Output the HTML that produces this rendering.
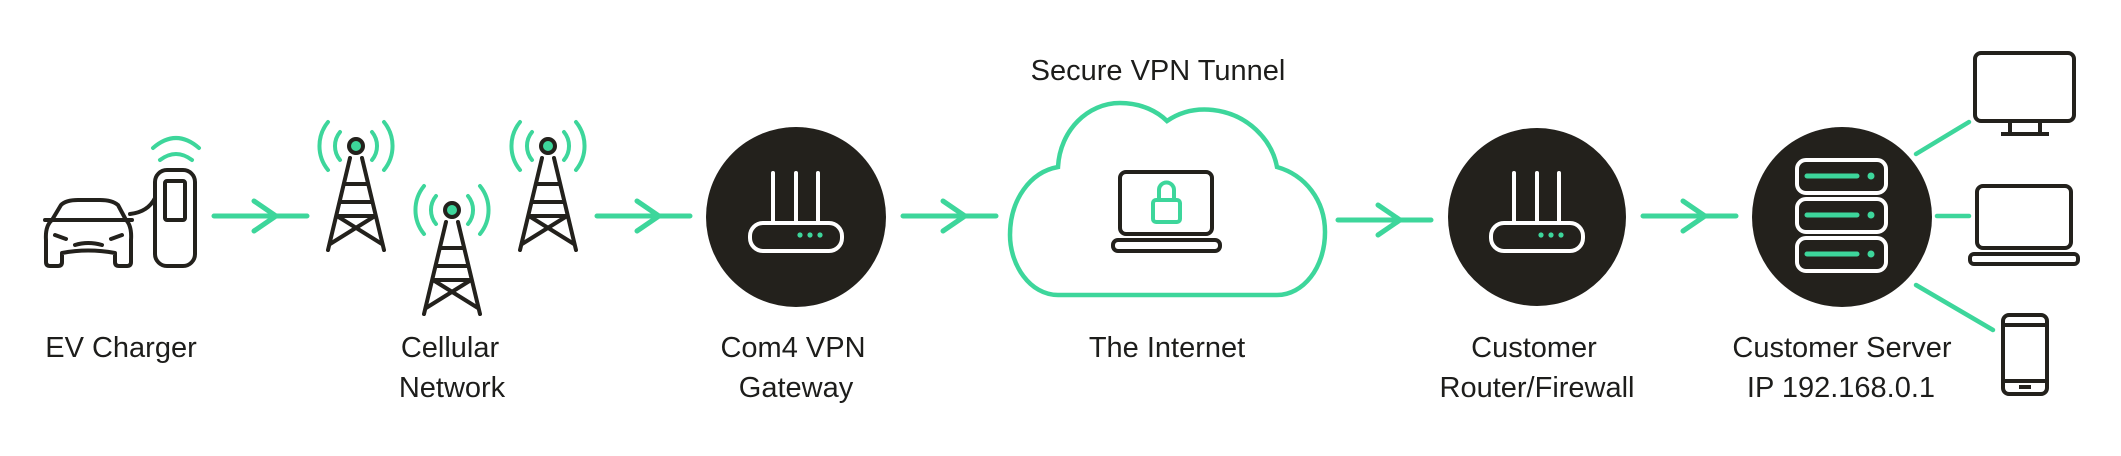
<!DOCTYPE html>
<html><head><meta charset="utf-8"><style>
html,body{margin:0;padding:0;background:#fff;width:2121px;height:456px;overflow:hidden}
svg{display:block}
text{font-family:"Liberation Sans",sans-serif;font-size:29px;fill:#1d1d1b;text-anchor:middle}
</style></head><body>
<svg width="2121" height="456" viewBox="0 0 2121 456" xmlns="http://www.w3.org/2000/svg">
<defs>
<g id="tower" fill="none" stroke="#23211c" stroke-width="4" stroke-linecap="round">
  <path d="M-6,12 L-28,104 M6,12 L28,104"/>
  <path d="M-11,38 L11,38 M-15,56 L15,56 M-19,70 L19,70 M-19,70 L26,98 M19,70 L-26,98"/>
  <circle cx="0" cy="0" r="7" fill="#3dd69b" stroke="#23211c" stroke-width="4"/>
  <g stroke="#3dd69b" stroke-width="4">
    <path d="M-16,-14 A22,22 0 0 0 -16,14 M16,-14 A22,22 0 0 1 16,14"/>
    <path d="M-28,-24 A38,38 0 0 0 -28,24 M28,-24 A38,38 0 0 1 28,24"/>
  </g>
</g>
<g id="arrow" fill="none" stroke="#3dd69b" stroke-width="5" stroke-linecap="round">
  <path d="M0,0 L93,0 M40,-15 L62,0 L40,15"/>
</g>
<g id="router" fill="none" stroke="#fff" stroke-width="4" stroke-linecap="round">
  <path d="M-23,-44 L-23,6 M0,-44 L0,6 M22,-44 L22,6"/>
  <rect x="-46" y="6" width="92" height="28" rx="13" fill="#23211c"/>
  <circle cx="4" cy="18" r="2.6" fill="#3dd69b" stroke="none"/>
  <circle cx="14" cy="18" r="2.6" fill="#3dd69b" stroke="none"/>
  <circle cx="24" cy="18" r="2.6" fill="#3dd69b" stroke="none"/>
</g>
</defs>

<!-- Car -->
<g fill="none" stroke="#23211c" stroke-width="4" stroke-linejoin="round" stroke-linecap="round">
  <path d="M52,220 L61,205 Q66,200 78,200 L100,200 Q112,200 118,205 L126,220 Q132,226 131,240 L131,262 Q131,266 127,266 L119,266 Q115,266 115,262 L115,253 Q88,248 62,253 L62,262 Q62,266 58,266 L50,266 Q46,266 46,262 L46,240 Q45,226 52,220 Z"/>
  <path d="M45,220 L132,220"/>
  <path d="M55,235 L66,239 M122,235 L111,239"/>
  <path d="M75,245 Q88,241 102,245"/>
  <path d="M130,214 Q148,212 155,198"/>
  <rect x="155" y="170" width="40" height="96" rx="12"/>
  <rect x="165" y="181" width="20" height="39" rx="2"/>
</g>
<g fill="none" stroke="#3dd69b" stroke-width="4" stroke-linecap="round">
  <path d="M160,160 Q176,148 192,160"/>
  <path d="M153,148 Q176,128 199,148"/>
</g>

<use href="#arrow" x="214" y="216"/>
<use href="#tower" x="356" y="146"/>
<use href="#tower" x="452" y="210"/>
<use href="#tower" x="548" y="146"/>
<use href="#arrow" x="597" y="216"/>

<circle cx="796" cy="217" r="90" fill="#23211c"/>
<use href="#router" x="796" y="217"/>

<use href="#arrow" x="903" y="216"/>

<!-- Cloud -->
<path d="M1058,295 C1030,295 1010,265 1010,235 C1010,200 1030,172 1058,167 C1060,130 1088,103 1120,103 C1142,103 1158,112 1167,121 C1180,112 1195,108 1213,110 C1248,114 1272,140 1277,167 C1305,175 1325,200 1325,232 C1325,268 1303,295 1277,295 Z" fill="none" stroke="#3dd69b" stroke-width="4.5"/>
<g fill="none" stroke="#23211c" stroke-width="4">
  <rect x="1120" y="172" width="92" height="62" rx="6"/>
  <rect x="1113" y="240" width="107" height="11" rx="5"/>
</g>
<g fill="none" stroke="#3dd69b" stroke-width="4">
  <path d="M1159,200 L1159,190 A7.5,7.5 0 0 1 1174,190 L1174,200"/>
  <rect x="1153" y="200" width="27" height="22" rx="3"/>
</g>

<use href="#arrow" x="1338" y="220"/>
<circle cx="1537" cy="217" r="89" fill="#23211c"/>
<use href="#router" x="1537" y="217"/>
<use href="#arrow" x="1643" y="216"/>

<circle cx="1842" cy="217" r="90" fill="#23211c"/>
<g fill="none" stroke="#fff" stroke-width="4">
  <rect x="1797" y="160" width="89" height="33" rx="9"/>
  <rect x="1797" y="199" width="89" height="33" rx="9"/>
  <rect x="1797" y="238" width="89" height="33" rx="9"/>
</g>
<g stroke="#3dd69b" stroke-width="5" stroke-linecap="round">
  <path d="M1807,176 L1857,176 M1807,215 L1857,215 M1807,254 L1857,254"/>
</g>
<g fill="#3dd69b"><circle cx="1871" cy="176" r="3.5"/><circle cx="1871" cy="215" r="3.5"/><circle cx="1871" cy="254" r="3.5"/></g>

<g stroke="#3dd69b" stroke-width="4.5" stroke-linecap="round">
  <path d="M1916,154 L1969,122"/>
  <path d="M1937,216 L1969,216"/>
  <path d="M1916,285 L1993,330"/>
</g>
<g fill="none" stroke="#23211c" stroke-width="4" stroke-linejoin="round">
  <rect x="1975" y="53" width="99" height="68" rx="6"/>
  <path d="M2010,121 L2010,133 M2040,121 L2040,133 M2001,134 L2049,134"/>
  <rect x="1977" y="186" width="94" height="62" rx="6"/>
  <rect x="1970" y="254" width="108" height="10" rx="4"/>
  <rect x="2003" y="315" width="44" height="79" rx="6"/>
  <path d="M2004,325 L2046,325 M2004,381 L2046,381 M2019,387 L2031,387"/>
</g>

<text x="121" y="357">EV Charger</text>
<text x="450" y="357">Cellular</text>
<text x="452" y="397">Network</text>
<text x="793" y="357">Com4 VPN</text>
<text x="796" y="397">Gateway</text>
<text x="1158" y="80">Secure VPN Tunnel</text>
<text x="1167" y="357">The Internet</text>
<text x="1534" y="357">Customer</text>
<text x="1537" y="397">Router/Firewall</text>
<text x="1842" y="357">Customer Server</text>
<text x="1841" y="397">IP 192.168.0.1</text>
</svg>
</body></html>
